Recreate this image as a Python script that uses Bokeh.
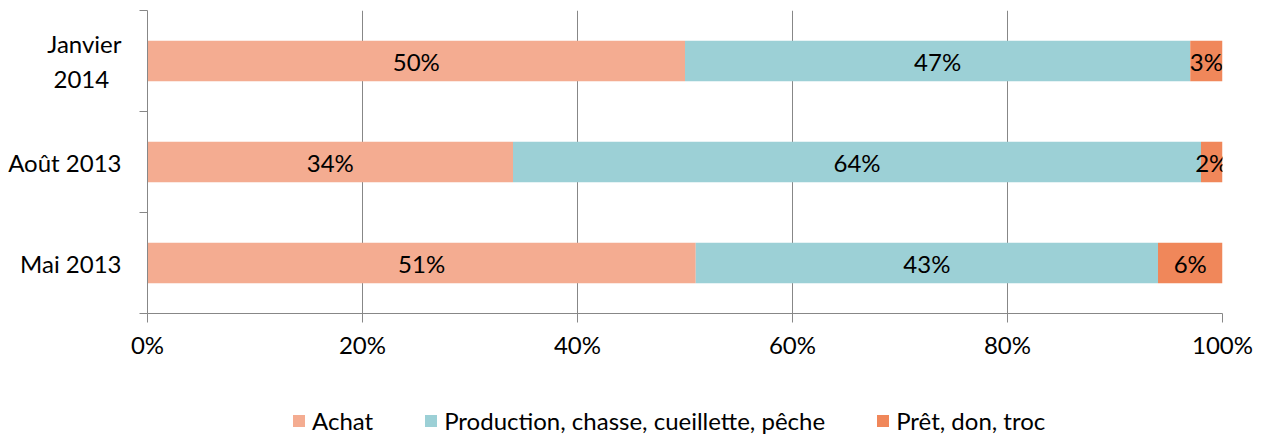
from bokeh.plotting import figure
from bokeh.layouts import column
from bokeh.models import (Range1d, FixedTicker, ColumnDataSource, Legend, LegendItem)
from bokeh.embed import file_html
from bokeh.resources import INLINE
from bokeh.core.properties import value

# ---- data ----
categories = ["Mai 2013", "Août 2013", "Janvier\n2014\u00a0\u00a0"]
series = ["Achat", "Production, chasse, cueillette, pêche", "Prêt, don, troc"]
achat = [51, 34, 50]
production = [43, 64, 47]
pret = [6, 2, 3]
colors = ["#F4AC91", "#9CD0D6", "#F0875A"]
x_ticks = [0, 20, 40, 60, 80, 100]
x_tick_labels = ["0%", "20%", "40%", "60%", "80%", "100%"]

FONT = "Lato"
FS = "24px"
GRID = "#878787"
W = 1255
LEFT = 147

ypos = [i + 0.5 for i in range(len(categories))]
src = ColumnDataSource(dict(y=ypos, a=achat, p=production, t=pret))

p = figure(width=W, height=407, output_backend="svg", toolbar_location=None,
           x_range=Range1d(0, 100), y_range=Range1d(0, len(categories)),
           min_border_left=LEFT, min_border_right=W - 1222, min_border_top=10,
           min_border_bottom=407 - 313)
p.outline_line_color = None
p.background_fill_color = "white"

p.hbar_stack(["a", "p", "t"], y="y", height=0.4, color=colors,
             line_color=None, source=src)

# data labels centered in segments
vals = [achat, production, pret]
lx, ly, lt = [], [], []
for i in range(len(categories)):
    start = 0
    for s in range(len(series)):
        v = vals[s][i]
        lx.append(start + v / 2)
        ly.append(ypos[i])
        lt.append(f"{v}%")
        start += v
lsrc = ColumnDataSource(dict(x=lx, y=ly, t=lt))
p.text(x="x", y="y", text="t", source=lsrc, text_align="center",
       text_baseline="middle", text_font=value(FONT), text_font_size=FS,
       text_color="black")

# x axis
p.xaxis.ticker = FixedTicker(ticks=x_ticks)
p.xaxis.major_label_overrides = {t: l for t, l in zip(x_ticks, x_tick_labels)}
p.xaxis.major_label_text_font = FONT
p.xaxis.major_label_text_font_size = FS
p.xaxis.major_label_text_color = "black"
p.xaxis.axis_line_color = GRID
p.xaxis.major_tick_line_color = GRID
p.xaxis.major_tick_out = 9
p.xaxis.major_tick_in = 0
p.xaxis.minor_tick_line_color = None
p.xaxis.major_label_standoff = 7

# y axis: labels at centers, ticks at boundaries (minor)
p.yaxis.ticker = FixedTicker(ticks=ypos, minor_ticks=list(range(len(categories) + 1)))
p.yaxis.major_label_overrides = {y: c for y, c in zip(ypos, categories)}
p.yaxis.major_label_text_font = FONT
p.yaxis.major_label_text_font_size = FS
p.yaxis.major_label_text_color = "black"
p.yaxis.axis_line_color = GRID
p.yaxis.major_tick_line_color = None
p.yaxis.major_tick_out = 0
p.yaxis.major_tick_in = 0
p.yaxis.minor_tick_line_color = GRID
p.yaxis.minor_tick_out = 8
p.yaxis.minor_tick_in = 0
p.yaxis.major_label_standoff = 18

p.xgrid.ticker = FixedTicker(ticks=x_ticks)
p.xgrid.grid_line_color = GRID
p.ygrid.grid_line_color = None

# legend strip (dummy NaN glyphs only provide the swatches)
nan = float("nan")
pl = figure(width=W, height=30, output_backend="svg", toolbar_location=None,
            x_range=Range1d(0, 1), y_range=Range1d(0, 1),
            x_axis_type=None, y_axis_type=None, min_border=0)
pl.outline_line_color = None
pl.grid.grid_line_color = None
lrs = [pl.quad(left=[nan], right=[nan], top=[nan], bottom=[nan], color=c, line_color=None)
       for c in colors]
legend = Legend(items=[LegendItem(label=s, renderers=[r]) for s, r in zip(series, lrs)],
                orientation="horizontal", location=(291 - LEFT, 2),
                label_text_font=FONT, label_text_font_size=FS,
                label_text_color="black", glyph_width=15, glyph_height=15,
                label_standoff=6, spacing=50, padding=0, margin=0,
                border_line_color=None, background_fill_alpha=0)
pl.add_layout(legend, "center")

layout = column(p, pl, spacing=0)
open("out.html", "w").write(file_html(layout, INLINE))
